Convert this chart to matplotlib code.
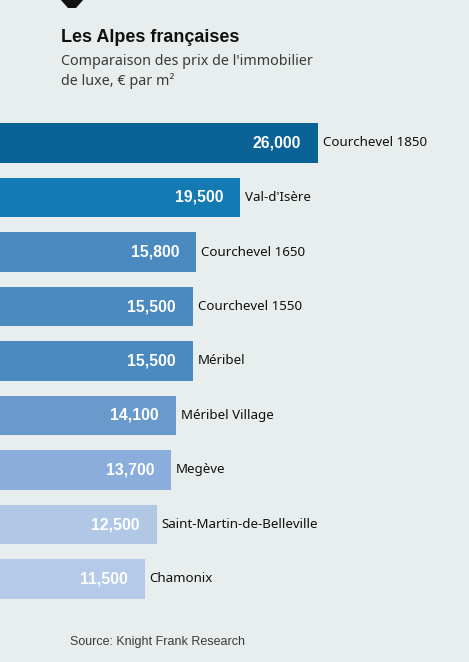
import matplotlib
matplotlib.use("Agg")
import matplotlib.pyplot as plt
from matplotlib.patches import Polygon

W, H = 469, 662

categories = ["Courchevel 1850", "Val-d'Isère", "Courchevel 1650", "Courchevel 1550",
              "Méribel", "Méribel Village", "Megève", "Saint-Martin-de-Belleville", "Chamonix"]
values = [26000, 19500, 15800, 15500, 15500, 14100, 13700, 12500, 11500]
value_labels = ["26,000", "19,500", "15,800", "15,500", "15,500", "14,100", "13,700", "12,500", "11,500"]
colors = ["#0b6296", "#137ab3", "#4a8ac0", "#4a8ac0", "#4a8ac0", "#6a9acc", "#8aaddb", "#b0c8e6", "#b4cae8"]

bg = "#e8eeed"
fig = plt.figure(figsize=(W / 100, H / 100), dpi=100, facecolor=bg)

def fx(px):
    return px / W

def fy(py):
    return 1 - py / H

# axes spanning bar area
top_px, bot_px = 115.75, 606.25
ax = fig.add_axes([0, fy(bot_px), 1, (bot_px - top_px) / H])
ax.set_facecolor(bg)
x_origin = -611
ax.set_xlim(x_origin, x_origin + W / 0.01195)
ax.set_ylim(len(values) - 0.5, -0.5)
for s in ax.spines.values():
    s.set_visible(False)
ax.set_xticks([])
ax.set_yticks([])

ypos = list(range(len(values)))
ax.barh(ypos, [v - x_origin for v in values], left=x_origin, height=0.73,
        color=colors, edgecolor="none")

for y, v, lab, cat in zip(ypos, values, value_labels, categories):
    ax.annotate(lab, (v, y), xytext=(-17, 0), textcoords="offset pixels",
                ha="right", va="center", color="white", fontsize=11.3,
                fontweight="bold", family="Liberation Sans")
    ax.annotate(cat, (v, y), xytext=(5, 0), textcoords="offset pixels",
                ha="left", va="center", color="#111111", fontsize=9.6,
                family="Noto Sans")

# decorative marker at top
fig.patches.append(Polygon([(fx(60), fy(-1)), (fx(84), fy(-1)), (fx(76), fy(8)), (fx(68), fy(8))],
                           closed=True, transform=fig.transFigure, facecolor="#111111",
                           edgecolor="none"))

fig.text(fx(61), fy(41.5), "Les Alpes françaises", fontsize=13, fontweight="bold",
         family="Liberation Sans", color="#111111", va="baseline", ha="left")
fig.text(fx(61), fy(65), "Comparaison des prix de l'immobilier", fontsize=10.3,
         family="Noto Sans", color="#3a3a3a", va="baseline", ha="left")
fig.text(fx(61), fy(85), "de luxe, € par m²", fontsize=10.3,
         family="Noto Sans", color="#3a3a3a", va="baseline", ha="left")
fig.text(fx(70), fy(645), "Source: Knight Frank Research", fontsize=9,
         family="Liberation Sans", color="#3a3a3a", va="baseline", ha="left")

fig.savefig("out.png", dpi=100, facecolor=bg)
